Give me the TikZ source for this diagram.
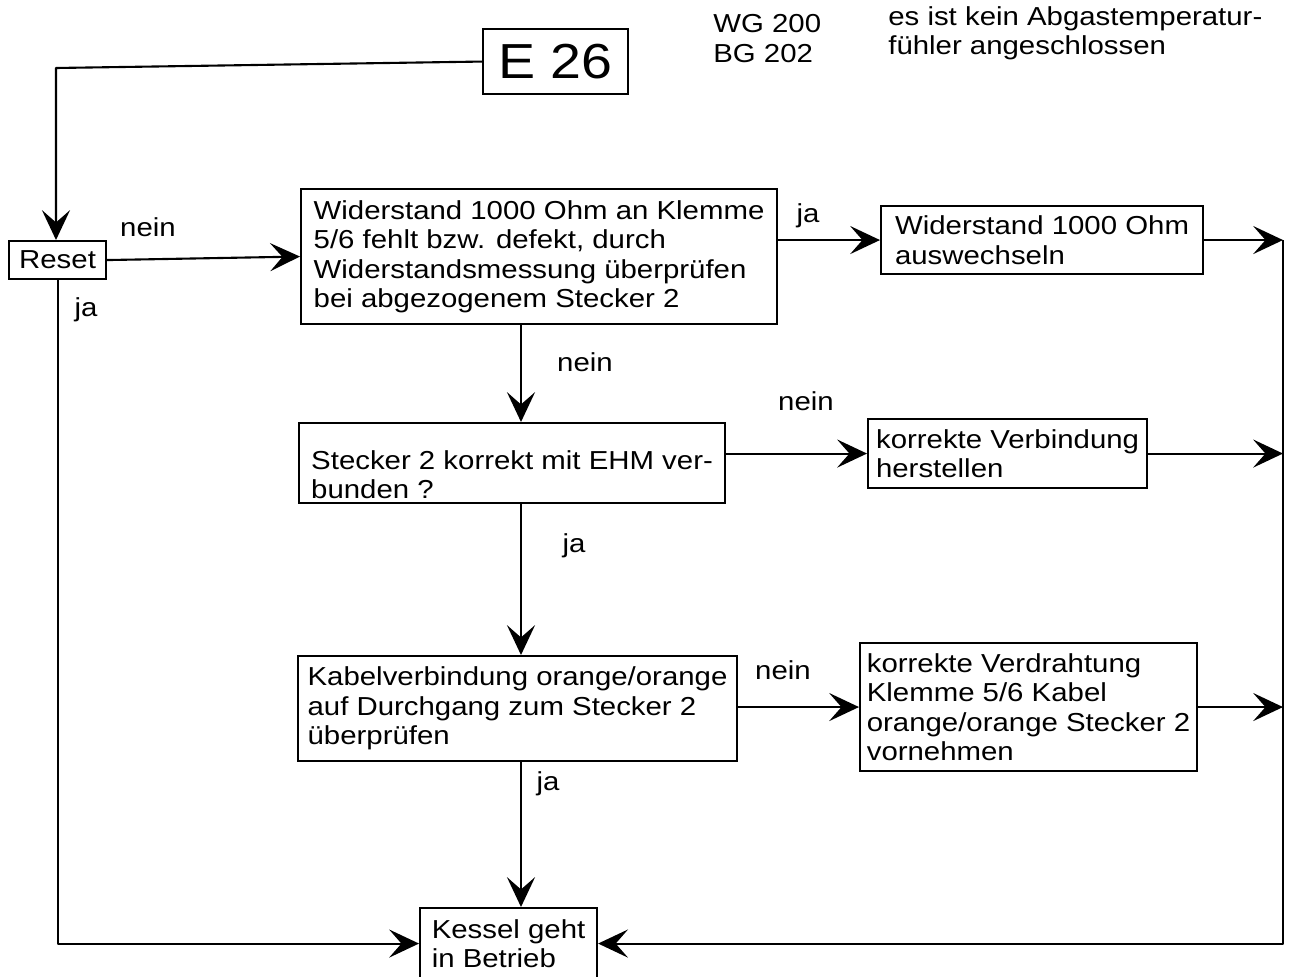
\documentclass[tikz,border=0pt]{standalone}
\usepackage{fontspec}
\setmainfont{Liberation Sans}[FakeStretch=1.13]
\usetikzlibrary{arrows.meta}
\newcommand{\boxfont}{\fontsize{14.8pt}{16.8pt}\selectfont}
\tikzset{
  stepbox/.style={draw, line width=1.2pt, anchor=north west, align=left,
    inner xsep=3.5pt, inner ysep=2pt, font=\boxfont},
  flow/.style={line width=1.2pt, line join=round,
    -{Stealth[length=17pt,width=16pt,inset=7pt]}},
  wire/.style={line width=1.2pt, line join=round},
  lbl/.style={font=\boxfont, inner sep=0pt},
}
% box: name, x, y (top left, px), width, height, text
\newcommand{\flowbox}[6]{%
  \node[stepbox, minimum width=#4*0.02cm, minimum height=#5*0.02cm] (#1) at (#2,#3) {#6};
}

\begin{document}
\begin{tikzpicture}[x=0.02cm,y=-0.02cm]
  \useasboundingbox (0,0) rectangle (1289,977);
  \node[stepbox, align=center, minimum width=145*0.02cm, minimum height=65*0.02cm,
    font=\fontsize{28pt}{30pt}\selectfont] (e26) at (482,28) {E 26};
  \node[lbl, anchor=north west, align=left] (typ) at (713,14) {WG 200\\BG 202};
  \node[lbl, anchor=north west, align=left] (hint) at (888,6)
    {es ist kein Abgastemperatur-\\fühler angeschlossen};
  \flowbox{reset}{8}{240}{97}{38}{Reset}
  \flowbox{widerst}{300}{188}{476}{135}{Widerstand 1000 Ohm an Klemme\\5/6 fehlt bzw. defekt, durch\\Widerstandsmessung überprüfen\\bei abgezogenem Stecker 2}
  \flowbox{tausch}{880}{205}{322}{68}{Widerstand 1000 Ohm\\auswechseln}
  \flowbox{stecker}{298}{422}{426}{80}{\rule{0pt}{24pt}Stecker 2 korrekt mit EHM ver-\\bunden ?}
  \flowbox{verbind}{867}{418}{279}{69}{korrekte Verbindung\\herstellen}
  \flowbox{kabel}{297}{655}{439}{105}{Kabelverbindung orange/orange\\auf Durchgang zum Stecker 2\\überprüfen}
  \flowbox{verdraht}{859}{642}{337}{128}{korrekte Verdrahtung\\Klemme 5/6 Kabel\\orange/orange Stecker 2\\vornehmen}
  \flowbox{kessel}{419}{907}{177}{71}{Kessel geht\\in Betrieb}

  \coordinate (topleft) at (56,68);
  \coordinate (col) at (521,0);
  \coordinate (rtop) at (1283,240);
  \coordinate (rmid) at (1283,453);
  \coordinate (rlow) at (1283,704);

  \draw[flow] (e26.west) -- (topleft) -- (topleft |- reset.north);
  \draw[flow] (reset.east) -- (widerst.west);
  \draw[flow] (reset.south) |- (kessel.west);
  \draw[flow] (widerst.east |- tausch.west) -- (tausch.west);
  \draw[flow] (widerst.south -| col) -- (stecker.north -| col);
  \draw[flow] (stecker.east |- verbind.west) -- (verbind.west);
  \draw[flow] (stecker.south -| col) -- (kabel.north -| col);
  \draw[flow] (kabel.east |- verdraht.west) -- (verdraht.west);
  \draw[flow] (kabel.south -| col) -- (kessel.north -| col);
  % outputs to the collector on the right
  \draw[flow] (tausch.east) -- (tausch.east -| rtop);
  \draw[flow] (verbind.east) -- (verbind.east -| rmid);
  \draw[flow] (verdraht.east) -- (verdraht.east -| rlow);
  \draw[flow] (rtop) |- (kessel.east);

  \node[lbl] (l1) at (148,227) {nein};
  \node[lbl] (l2) at (86,310) {ja};
  \node[lbl] (l3) at (808,216) {ja};
  \node[lbl] (l4) at (585,362) {nein};
  \node[lbl] (l5) at (806,401) {nein};
  \node[lbl] (l6) at (574,546) {ja};
  \node[lbl] (l7) at (783,670) {nein};
  \node[lbl] (l8) at (548,784) {ja};
\end{tikzpicture}
\end{document}
